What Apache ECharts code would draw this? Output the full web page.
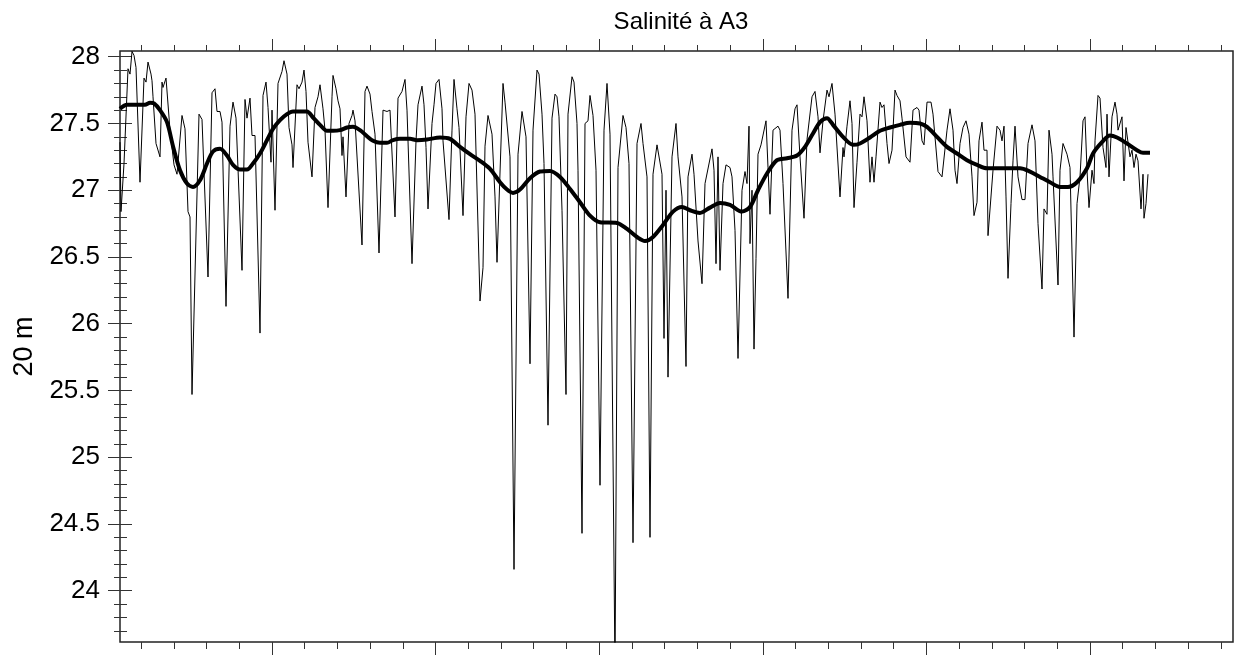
<!DOCTYPE html>
<html>
<head>
<meta charset="utf-8">
<script src="https://cdn.jsdelivr.net/npm/echarts@6/dist/echarts.min.js"></script>
<style>
html,body{margin:0;padding:0;background:#ffffff;}
#c{width:1249px;height:656px;}
</style>
</head>
<body>
<div id="c"></div>
<script>
// ---- texts ----
const titre = 'Salinité à A3';
const nomAxeY = '20 m';

// ---- y axis tick labels ----
const yTickLabels = [24, 24.5, 25, 25.5, 26, 26.5, 27, 27.5, 28];

// ---- axis ranges (time in days from start, salinity) ----
const X_MIN = 0, X_MAX = 1113;
const Y_MIN = 23.616, Y_MAX = 28.043;
const X_FIRST_TICK = 21.1, X_TICK_STEP = 32.72, X_TICK_COUNT = 34, X_MAJOR_EVERY = 5, X_MAJOR_OFFSET = 4;

// ---- raw salinity series [day, salinity] ----
const brut = [
[0,27.36],[1,26.84],[4,27.2],[8,27.91],[10,27.87],[12,28.04],[14,28.01],[16,27.92],[20,27.06],[24,27.84],
[26,27.81],[28,27.96],[31,27.87],[32,27.82],[33,27.7],[36,27.35],[38,27.36],[40,27.25],[42,27.81],[43,27.77],
[46,27.84],[50,27.45],[54,27.19],[57,27.12],[62,27.56],[65,27.46],[68,26.84],[70,26.8],[72,25.47],[79,27.57],
[82,27.53],[88,26.35],[92,27.73],[95,27.76],[97,27.59],[100,27.59],[102,27.51],[106,26.13],[110,27.48],[113,27.66],
[116,27.54],[122,26.4],[125,27.68],[127,27.54],[130,27.69],[132,27.41],[135,27.41],[140,25.93],[143,27.71],[146,27.81],
[148,27.62],[151,27.21],[152,27.6],[155,26.85],[158,27.8],[162,27.89],[164,27.97],[167,27.87],[169,27.47],[172,27.34],
[173,27.17],[177,27.79],[179,27.76],[182,27.81],[184,27.9],[186,27.74],[188,27.36],[192,27.1],[195,27.62],[198,27.7],
[200,27.79],[203,27.61],[205,27.45],[208,26.87],[212,27.7],[213,27.86],[216,27.76],[218,27.67],[220,27.61],[222,27.26],
[223,27.4],[226,26.95],[229,27.5],[232,27.56],[233,27.6],[235,27.52],[242,26.59],[245,27.74],[247,27.78],[250,27.72],
[252,27.59],[255,27.42],[259,26.53],[263,27.6],[267,27.59],[270,27.6],[275,26.8],[278,27.69],[282,27.74],[285,27.83],
[287,27.6],[292,26.45],[296,27.37],[298,27.64],[302,27.78],[304,27.64],[306,27.32],[308,26.86],[312,27.5],[314,27.64],
[316,27.8],[319,27.83],[322,27.61],[323,27.37],[329,26.78],[332,27.45],[334,27.83],[337,27.61],[339,27.47],[343,26.81],
[346,27.55],[349,27.8],[352,27.75],[355,27.57],[360,26.17],[363,26.42],[365,27.33],[368,27.56],[372,27.42],[375,26.95],
[377,26.46],[383,27.8],[385,27.66],[387,27.67],[390,27.25],[394,24.16],[398,27.27],[402,27.59],[404,27.6],[406,27.4],
[410,25.7],[413,27.45],[417,27.9],[419,27.87],[422,27.57],[424,27.2],[428,25.24],[432,27.54],[435,27.72],[437,27.7],
[439,27.55],[442,26.85],[446,25.47],[448,27.57],[452,27.85],[454,27.81],[457,27.5],[458,27.15],[462,24.43],[465,27.5],
[468,27.52],[470,27.71],[473,27.56],[476,27.15],[480,24.79],[484,27.45],[487,27.8],[490,27.42],[495,23.4],[498,27.17],
[503,27.56],[506,27.47],[509,27.2],[513,24.36],[517,27.35],[521,27.5],[523,27.35],[527,27.1],[530,24.4],[533,27.12],
[537,27.34],[539,27.35],[542,27.12],[544,25.89],[546,27.0],[548,25.6],[552,27.25],[556,27.5],[558,27.25],[562,26.95],
[566,25.68],[568,27.1],[572,27.27],[574,27.12],[578,26.62],[582,26.3],[585,27.05],[592,27.31],[594,27.15],[596,26.45],
[598,27.25],[600,26.4],[603,27.05],[606,27.19],[610,27.17],[612,27.1],[615,26.7],[618,25.74],[622,27.0],[625,27.14],
[627,27.05],[629,27.48],[630,26.6],[632,27.0],[634,25.81],[636,26.49],[638,27.27],[641,27.34],[646,27.52],[648,27.17],
[650,26.82],[653,27.45],[658,27.48],[660,27.45],[663,27.05],[668,26.19],[672,27.45],[675,27.61],[677,27.64],[680,27.25],
[684,26.79],[687,27.38],[692,27.7],[695,27.74],[698,27.55],[700,27.28],[703,27.52],[707,27.75],[709,27.7],[712,27.8],
[715,27.57],[720,26.95],[723,27.32],[724,27.25],[727,27.48],[730,27.67],[732,27.5],[734,26.87],[737,27.21],[740,27.57],
[742,27.55],[744,27.7],[747,27.52],[750,27.06],[752,27.25],[754,27.06],[756,27.25],[760,27.66],[762,27.62],[764,27.64],
[767,27.35],[769,27.2],[772,27.3],[775,27.75],[777,27.71],[780,27.67],[782,27.54],[786,27.25],[790,27.21],[793,27.6],
[797,27.62],[799,27.6],[802,27.37],[804,27.34],[807,27.66],[811,27.66],[813,27.57],[815,27.57],[818,27.14],[822,27.1],
[824,27.1],[827,27.45],[830,27.61],[833,27.45],[835,27.15],[837,27.05],[840,27.35],[843,27.47],[846,27.52],[849,27.42],
[852,27.1],[854,26.81],[857,26.91],[859,27.37],[862,27.51],[864,27.3],[867,27.3],[868,26.66],[870,26.65],[873,27.15],
[877,27.48],[880,27.45],[882,27.37],[884,27.48],[886,26.95],[888,26.34],[891,26.9],[893,27.22],[895,27.48],[898,27.1],
[902,26.93],[905,26.93],[908,27.35],[912,27.49],[915,27.37],[918,26.75],[922,26.26],[924,26.86],[927,26.82],[929,27.45],
[932,27.27],[933,27.1],[938,26.29],[940,27.15],[943,27.35],[945,27.34],[947,27.27],[950,27.17],[954,25.9],[957,26.9],
[960,27.1],[963,27.52],[965,27.55],[967,27.15],[969,26.87],[972,27.15],[974,27.05],[975,27.37],[978,27.71],[980,27.69],
[983,27.32],[986,27.17],[987,27.57],[989,27.1],[992,27.55],[995,27.66],[997,27.57],[998,27.45],[1002,27.55],[1004,27.07],
[1006,27.47],[1008,27.46],[1010,27.25],[1012,27.3],[1014,27.17],[1016,27.27],[1018,27.22],[1021,26.86],[1023,27.12],[1024,26.79],
[1026,26.9],[1028,27.12]
];

// ---- smoothed (low-pass) salinity [day, salinity] ----
const lisse = [
[0,27.61],[7,27.64],[25,27.64],[30,27.655],[34,27.65],[40,27.6],[47,27.51],[53,27.33],[60,27.15],[67,27.05],
[73,27.025],[80,27.075],[87,27.2],[93,27.29],[100,27.31],[107,27.26],[113,27.19],[120,27.155],[127,27.155],[133,27.2],
[140,27.275],[147,27.375],[153,27.46],[160,27.525],[167,27.57],[173,27.59],[180,27.59],[187,27.59],[193,27.545],[200,27.49],
[207,27.445],[213,27.445],[220,27.45],[227,27.47],[233,27.475],[240,27.45],[247,27.405],[253,27.37],[260,27.355],[267,27.355],
[273,27.375],[280,27.385],[290,27.385],[297,27.375],[307,27.38],[320,27.395],[330,27.385],[340,27.325],[350,27.27],[360,27.22],
[370,27.16],[380,27.06],[387,27.005],[393,26.98],[400,27.005],[410,27.09],[420,27.14],[430,27.145],[440,27.1],[450,27.01],
[460,26.91],[470,26.81],[480,26.76],[497,26.755],[507,26.71],[517,26.65],[525,26.62],[533,26.65],[543,26.74],[553,26.84],
[562,26.875],[570,26.85],[580,26.83],[590,26.87],[600,26.905],[610,26.89],[622,26.84],[630,26.875],[638,27.0],[647,27.125],
[657,27.225],[667,27.24],[677,27.26],[685,27.325],[693,27.425],[700,27.51],[707,27.54],[713,27.49],[723,27.4],[733,27.34],
[740,27.35],[750,27.395],[760,27.445],[770,27.47],[780,27.49],[790,27.505],[800,27.5],[807,27.475],[817,27.4],[827,27.325],
[837,27.275],[847,27.225],[857,27.19],[867,27.165],[883,27.165],[900,27.165],[910,27.14],[920,27.1],[930,27.06],[940,27.025],
[948,27.025],[957,27.06],[967,27.165],[973,27.275],[982,27.36],[990,27.41],[997,27.395],[1007,27.35],[1017,27.3],[1023,27.28],
[1030,27.28]
];

// ---- tick positions (axis configuration) ----
const xMinor = [], xMajor = [];
for (let k = 0; k < X_TICK_COUNT; k++) {
  const v = X_FIRST_TICK + X_TICK_STEP * k;
  if (k % X_MAJOR_EVERY === X_MAJOR_OFFSET) xMajor.push(v); else xMinor.push(v);
}
const yMinor = [];
for (let i = 237; i <= 280; i++) { if (i % 5 !== 0) yMinor.push(i / 10); }

const FONT = '"Liberation Sans", Arial, sans-serif';
const tickColor = '#333';

function xAx(pos, ticks, len) {
  return {
    type: 'value', position: pos, min: X_MIN, max: X_MAX,
    axisLine: { show: false }, splitLine: { show: false },
    axisLabel: { show: false },
    axisTick: { show: true, inside: false, length: len, customValues: ticks, lineStyle: { color: tickColor, width: 1 } }
  };
}
function yAx(pos, ticks, len, labels) {
  const a = {
    type: 'value', position: pos, min: Y_MIN, max: Y_MAX,
    axisLine: { show: false }, splitLine: { show: false },
    axisLabel: { show: false },
    axisTick: { show: true, inside: false, length: len, customValues: ticks, lineStyle: { color: tickColor, width: 1 } }
  };
  if (labels) {
    a.axisLabel = { show: true, customValues: labels, margin: 20, color: '#000', fontSize: 26, fontFamily: FONT,
      formatter: v => String(Math.round(v * 10) / 10) };
    a.name = nomAxeY; a.nameLocation = 'middle'; a.nameGap = 82; a.nameRotate = 90;
    a.nameTextStyle = { color: '#000', fontSize: 27, fontFamily: FONT };
  }
  return a;
}

const chart = echarts.init(document.getElementById('c'), null, { renderer: 'canvas' });
chart.setOption({
  animation: false,
  backgroundColor: '#ffffff',
  title: {
    text: titre, left: 676, top: 5, textAlign: 'center',
    textStyle: { color: '#000', fontSize: 24, fontWeight: 'normal', fontFamily: FONT }
  },
  grid: { left: 120, top: 51, right: 16, bottom: 14, show: true, borderColor: '#222', borderWidth: 1.5, backgroundColor: 'transparent' },
  xAxis: [
    xAx('bottom', xMinor, 7),
    xAx('bottom', xMajor, 13),
    xAx('top', xMinor, 6),
    xAx('top', xMajor, 12)
  ],
  yAxis: [
    yAx('left', yMinor, 6, yTickLabels),
    yAx('left', yTickLabels, 12, null),
    yAx('right', yMinor, 7, null),
    yAx('right', yTickLabels, 12, null)
  ],
  series: [
    {
      type: 'line', xAxisIndex: 0, yAxisIndex: 0, data: brut, showSymbol: false, symbol: 'none',
      lineStyle: { color: '#000', width: 1 }, clip: true, z: 2
    },
    {
      type: 'line', xAxisIndex: 0, yAxisIndex: 0, data: lisse, showSymbol: false, symbol: 'none', smooth: 0.3,
      lineStyle: { color: '#000', width: 4 }, clip: true, z: 3
    }
  ]
});
</script>
</body>
</html>
